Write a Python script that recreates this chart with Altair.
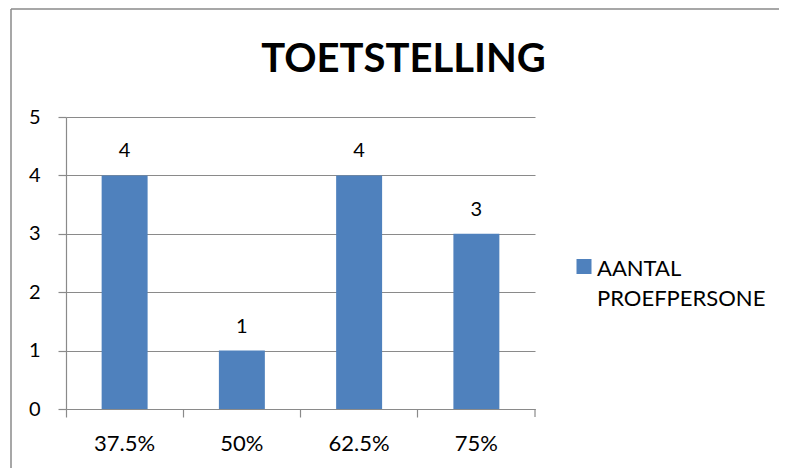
import altair as alt
import pandas as pd

categories = ["37.5%", "50%", "62.5%", "75%"]
values = [4, 1, 4, 3]
series_name = "AANTAL PROEFPERSONE"
y_ticks = [0, 1, 2, 3, 4, 5]

GRAY = "#8a8a8a"
BAR = "#4F81BD"
FONT = "Lato"

df = pd.DataFrame({"cat": categories, "val": values, "series": [series_name] * len(categories)})

W, H = 469, 292

x_enc = alt.X(
    "cat:N",
    sort=categories,
    scale=alt.Scale(paddingInner=0, paddingOuter=0),
    axis=alt.Axis(
        title=None, labelAngle=0, bandPosition=0,
        domainColor=GRAY, tickColor=GRAY, tickSize=8, tickWidth=1.2, domainWidth=1.2,
        labelFont=FONT, labelFontSize=22, labelColor="#000000", labelPadding=16,
        grid=False,
    ),
)
y_enc = alt.Y(
    "val:Q",
    scale=alt.Scale(domain=[0, 5], nice=False),
    axis=alt.Axis(
        title=None, values=y_ticks, format="d",
        domainColor=GRAY, tickColor=GRAY, tickSize=8, tickWidth=1.2, domainWidth=1.2,
        grid=True, gridColor=GRAY, gridWidth=1.2,
        labelFont=FONT, labelFontSize=20, labelColor="#000000", labelPadding=18,
    ),
)

base = alt.Chart(df)

bars = base.mark_bar(width=alt.RelativeBandSize(0.392), color=BAR).encode(
    x=x_enc,
    y=y_enc,
    color=alt.Color(
        "series:N",
        scale=alt.Scale(range=[BAR]),
        legend=alt.Legend(
            title=None, orient="none", legendX=507, legendY=131, padding=0,
            symbolType="M-1,0H1V2H-1Z", symbolSize=225, symbolStrokeWidth=0,
            symbolFillColor=BAR,
            labelFont=FONT, labelFontSize=22, labelColor="#000000",
            labelExpr="split(datum.label, ' ')", labelLimit=400, labelOffset=2,
            labelBaseline="top",
        ),
    ),
)

labels = base.mark_text(baseline="alphabetic", dy=-18, font=FONT, fontSize=20, color="#000000").encode(
    x=alt.X("cat:N", sort=categories), y="val:Q", text="val:Q"
)

deco = alt.Chart(pd.DataFrame({"a": [0]}))
last_tick = deco.mark_rule(color=GRAY, strokeWidth=1.2).encode(
    x=alt.value(W), y=alt.value(H), y2=alt.value(H + 8)
)
border_top = deco.mark_rule(color=GRAY, strokeWidth=1.5).encode(
    x=alt.value(-55), x2=alt.value(800), y=alt.value(-108)
)
border_left = deco.mark_rule(color=GRAY, strokeWidth=1.5).encode(
    x=alt.value(-55), y=alt.value(-108), y2=alt.value(400)
)

chart = alt.layer(bars, labels, last_tick, border_top, border_left).properties(
    width=W,
    height=H,
    autosize=alt.AutoSizeParams(type="none"),
    padding={"left": 58, "top": 109, "right": 244, "bottom": 59},
    title=alt.TitleParams(
        "TOETSTELLING", font=FONT, fontSize=40, fontWeight="bold", color="#000000",
        anchor="middle", dx=103, baseline="alphabetic", offset=0, dy=104,
    ),
).configure(
    background="white",
    view=alt.ViewConfig(stroke=None),
    style={"guide-label": {"lineHeight": 30}},
)

chart.save("out.html", embed_options={"renderer": "svg", "actions": False})
